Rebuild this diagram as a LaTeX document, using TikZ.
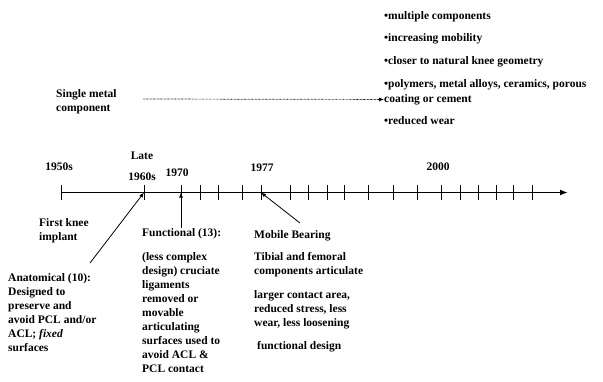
\documentclass[tikz,border=0pt]{standalone}
\usepackage{fontspec}
\setmainfont{Liberation Serif}
\usetikzlibrary{arrows.meta}

\begin{document}
\begin{tikzpicture}[
  x=1pt, y=-1pt,
  txt/.style={font=\fontsize{11.5}{14}\selectfont\bfseries, align=left, inner sep=0pt, anchor=north west},
  year/.style={font=\fontsize{11.5}{14}\selectfont\bfseries, align=center, inner sep=0pt},
  axis/.style={line width=1.8pt, -{Latex[length=8pt,width=6pt]}},
  tickmark/.style={line width=0.8pt},
  pointer/.style={line width=0.8pt, -{Latex[length=5pt,width=4pt]}},
  dots/.style={dash pattern=on 0.7pt off 0.7pt, line width=0.7pt, -{Latex[length=5pt,width=4pt]}}
]
\useasboundingbox (0,0) rectangle (603,381);

% time line
\foreach \x [count=\i] in {61,144,181,200,218,242,261,290,308,327,344,368,393,417,441,460,478,496,513,532}
  \draw[tickmark] (\x,185) -- (\x,200) coordinate[midway] (t\i);
\coordinate (axend) at (568,192.5);
\draw[axis] (t1) -- (axend);

% years
\node[year] (y1950) at (59,167) {1950s};
\node[year] (y1960) at (142,166) {Late\\[7pt]1960s};
\node[year] (y1970) at (177,173) {1970};
\node[year] (y1977) at (262,168) {1977};
\node[year] (y2000) at (438,167) {2000};

% top: single component to modern designs
\node[txt] (single) at (56,89) {Single metal\\component};
\node[txt] (multi) at (384,11) {\textbullet multiple components};
\node[txt] (mobil) at (384,33) {\textbullet increasing mobility};
\node[txt] (closer) at (384,56) {\textbullet closer to natural knee geometry};
\node[txt] (poly) at (384,79) {\textbullet polymers, metal alloys, ceramics, porous};
\node[txt] (coat) at (384,94) {coating or cement};
\node[txt] (wear) at (384,116) {\textbullet reduced wear};
\coordinate (dotstart) at (143,99);
\draw[dots] (dotstart) -- (coat.west);

% below the line
\node[txt] (first) at (39,218) {First knee\\implant};
\node[txt] (anat) at (8,273) {Anatomical (10):\\Designed to\\preserve and\\avoid PCL and/or\\ACL; \textit{fixed}\\surfaces};
\node[txt] (func) at (142,228) {Functional (13):};
\node[txt] (funcdesc) at (142,252) {(less complex\\design) cruciate\\ligaments\\removed or\\movable\\articulating\\surfaces used to\\avoid ACL \&\\PCL contact};
\node[txt] (mobile) at (254,230) {Mobile Bearing};
\node[txt] (tibial) at (254,252) {Tibial and femoral\\components articulate};
\node[txt] (contact) at (254,290) {larger contact area,\\reduced stress, less\\wear, less loosening};
\node[txt] (fdesign) at (257,341) {functional design};

\coordinate (anattip) at (90,263);
\coordinate (mobtip) at (300,223);
\draw[pointer] (anattip) -- (t2);
\draw[pointer] (func.north -| t3) -- (t3);
\draw[pointer] (mobtip) -- (t7);
\end{tikzpicture}
\end{document}
